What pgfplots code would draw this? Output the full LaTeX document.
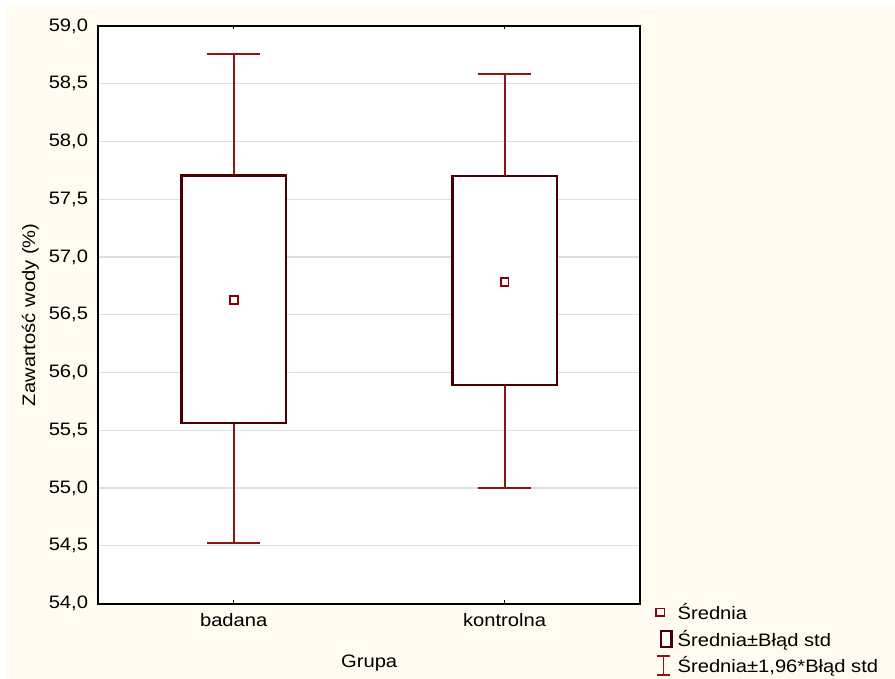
\documentclass[border=0pt]{standalone}
\usepackage{fontspec}
\setmainfont{Liberation Sans}[FakeStretch=1.12]
\usepackage{pgfplots}
\pgfplotsset{compat=1.18}
\definecolor{cream}{HTML}{FFFBF0}
\definecolor{boxc}{HTML}{4A0000}
\definecolor{whisk}{HTML}{8E1414}
\definecolor{meanc}{HTML}{8B0000}
\definecolor{gridc}{HTML}{DEDEDE}
\begin{document}
\begin{tikzpicture}[font=\fontsize{13.5}{16}\selectfont]
\fill[white] (-73.7pt,-56.6pt) rectangle (597.5pt,452.6pt);
\fill[cream] (-68.45pt,-56.6pt) rectangle (597.5pt,447.35pt);
\begin{axis}[
  scale only axis, width=406.3pt, height=433.1pt,
  at={(0,0)}, anchor=south west,
  xmin=-0.5, xmax=1.5, ymin=54, ymax=59,
  axis background/.style={fill=white},
  axis line style={black, line width=1.5pt},
  xtick={0,1}, xticklabels={badana,kontrolna},
  ytick={54,54.5,...,59},
  ymajorgrids, grid style={gridc, line width=1.1pt},
  xtick style={black, line width=1pt}, major tick length=2.5pt,
  tick align=inside,
  ytick style={draw=none},
  yticklabel={\pgfmathprintnumber[fixed,fixed zerofill,precision=1,use comma]{\tick}},
  /pgf/number format/assume math mode=true,
  yticklabel style={inner sep=0pt, anchor=east, xshift=-7.5pt},
  xticklabel style={inner sep=0pt, anchor=north, yshift=-7pt},
  xlabel={Grupa}, ylabel={Zawartość wody (\%)},
  xlabel style={at={(axis description cs:0.5,0)}, anchor=center, yshift=-44.6pt, inner sep=0pt},
  ylabel style={at={(axis description cs:0,0.5)}, anchor=center, yshift=51pt, inner sep=0pt},
  legend cell align=left,
  legend style={at={(axis description cs:1,0)}, anchor=north west, xshift=10.3pt, yshift=3.6pt,
    draw=none, fill=none, inner sep=0pt, row sep=0pt, column sep=3.7pt,
    nodes={inner sep=0pt}},
]
% whiskers: badana
\addplot[whisk, line width=1.5pt, forget plot] coordinates {(0,54.52) (0,55.563)};
\addplot[whisk, line width=1.5pt, forget plot] coordinates {(0,57.706) (0,58.758)};
\addplot[whisk, line width=1.5pt, forget plot] coordinates {(-0.098,54.52) (0.098,54.52)};
\addplot[whisk, line width=1.5pt, forget plot] coordinates {(-0.098,58.758) (0.098,58.758)};
% whiskers: kontrolna
\addplot[whisk, line width=1.5pt, forget plot] coordinates {(1,55.0) (1,55.892)};
\addplot[whisk, line width=1.5pt, forget plot] coordinates {(1,57.70) (1,58.584)};
\addplot[whisk, line width=1.5pt, forget plot] coordinates {(0.902,55.0) (1.098,55.0)};
\addplot[whisk, line width=1.5pt, forget plot] coordinates {(0.902,58.584) (1.098,58.584)};
% boxes (mean +/- SE)
\addplot[boxc, line width=2pt, fill=white, forget plot] coordinates {(-0.1935,55.563) (0.1935,55.563) (0.1935,57.706) (-0.1935,57.706)} -- cycle;
\addplot[boxc, line width=2pt, fill=white, forget plot] coordinates {(0.8065,55.892) (1.1935,55.892) (1.1935,57.70) (0.8065,57.70)} -- cycle;
% means
\addplot[only marks, mark=square*, mark size=2.9pt, mark options={draw=meanc, fill=white, line width=1.4pt}, forget plot] coordinates {(0,56.628) (1,56.785)};
\addlegendimage{legend image code/.code={
  \path[draw=none, fill=none] (-7pt,-10pt) rectangle (7pt,10pt);
  \draw[meanc, line width=1.3pt, fill=white] (-5.4pt,-2.8pt) rectangle (0.9pt,2.8pt);}}
\addlegendentry{Średnia}
\addlegendimage{legend image code/.code={
  \path[draw=none, fill=none] (-7pt,-10pt) rectangle (7pt,10pt);
  \draw[boxc, line width=1.7pt, fill=white] (-1.6pt,-5.8pt) rectangle (6.1pt,5.8pt);}}
\addlegendentry{Średnia±Błąd std}
\addlegendimage{legend image code/.code={
  \path[draw=none, fill=none] (-7pt,-10pt) rectangle (7pt,10pt);
  \draw[whisk, line width=1.3pt] (0,-7pt) -- (0,7pt) (-4.8pt,-7pt) -- (4.8pt,-7pt) (-4.8pt,7pt) -- (4.8pt,7pt);}}
\addlegendentry{Średnia±1,96*Błąd std}
\end{axis}
\end{tikzpicture}
\end{document}
